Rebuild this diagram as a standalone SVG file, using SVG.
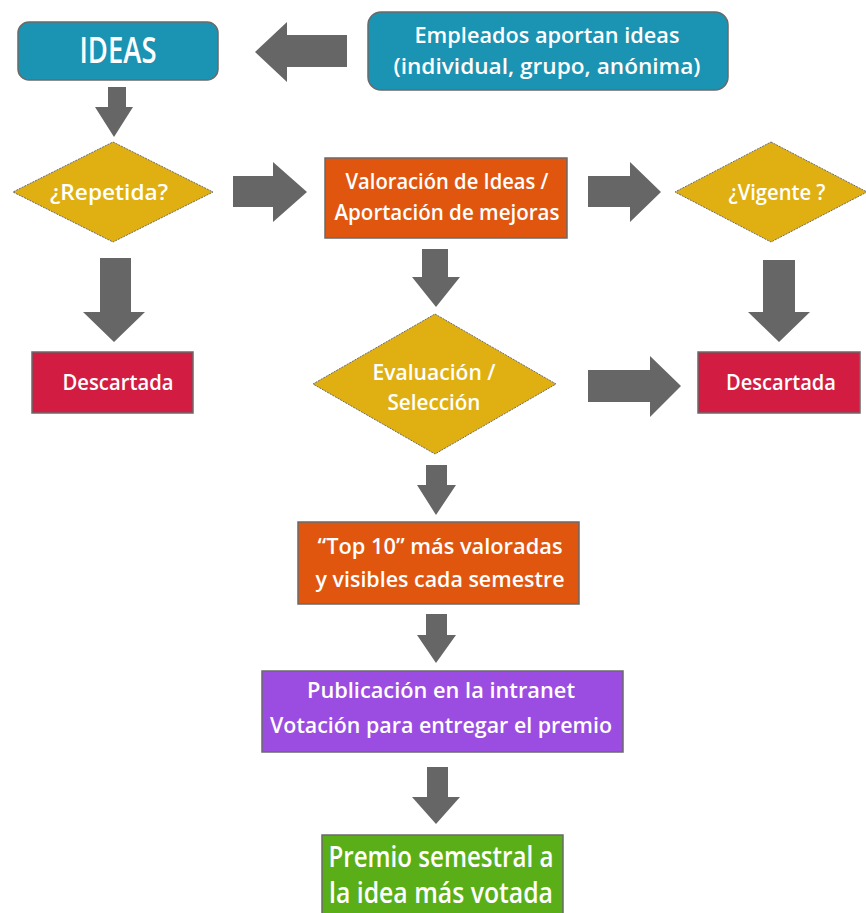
<svg xmlns="http://www.w3.org/2000/svg" width="866" height="913" viewBox="0 0 866 913">
<style>
  text { font-family: "Open Sans", "Noto Sans", "DejaVu Sans", sans-serif; font-weight: 600; fill: #ffffff; text-anchor: middle; }
  .t { font-size: 22px; }
  .big { font-size: 36px; }
  .pr { font-size: 28px; }
  .teal { fill: #1b93b3; stroke: #6a6a6a; stroke-width: 1.5; }
  .orange { fill: #e0560f; stroke: #6a6a6a; stroke-width: 1.5; }
  .red { fill: #d21c41; stroke: #6a6a6a; stroke-width: 1.5; }
  .purple { fill: #9b4de2; stroke: #6a6a6a; stroke-width: 1.5; }
  .green { fill: #5aaf19; stroke: #6a6a6a; stroke-width: 1.5; }
  .dia { fill: #e0b012; stroke: #6a6a6a; stroke-width: 1; stroke-dasharray: 2 1; }
  .arr { fill: #666666; }
</style>
<rect width="866" height="913" fill="#ffffff"/>

<g id="connectors">
  <polygon class="arr" points="347,35 287,35 287,22 255,52 287,82 287,67 347,67"/>
  <polygon class="arr" points="108,87 126,87 126,107 133,107 114,137 95,107 108,107"/>
  <polygon class="arr" points="233,176 273,176 273,162 307,192 273,222 273,207 233,207"/>
  <polygon class="arr" points="588,176 630,176 630,162 661,192 630,222 630,207 588,207"/>
  <polygon class="arr" points="100,258 131,258 131,312 145,312 114,342 83,312 100,312"/>
  <polygon class="arr" points="763,260 795,260 795,312 810,312 779,342 748,312 763,312"/>
  <polygon class="arr" points="422,249 448,249 448,277 460,277 436,307 412,277 422,277"/>
  <polygon class="arr" points="588,370 650,370 650,356 681,386 650,417 650,402 588,402"/>
  <polygon class="arr" points="426,465 447,465 447,485 456,485 436,515 417,485 426,485"/>
  <polygon class="arr" points="426,614 447,614 447,635 456,635 436,663 417,635 426,635"/>
  <polygon class="arr" points="427,767 448,767 448,797 460,797 436,824 412,797 427,797"/>
</g>

<g id="ideas">
  <rect class="teal" x="18" y="22" width="200" height="58" rx="11"/>
  <text class="big" x="118" y="63" textLength="77" lengthAdjust="spacingAndGlyphs">IDEAS</text>
</g>

<g id="empleados">
  <rect class="teal" x="368" y="12" width="360" height="78" rx="13"/>
  <text class="t" x="547" y="43" textLength="265" lengthAdjust="spacingAndGlyphs">Empleados aportan ideas</text>
  <text class="t" x="547" y="74" textLength="307" lengthAdjust="spacingAndGlyphs">(individual, grupo, anónima)</text>
</g>

<g id="repetida">
  <polygon class="dia" points="113,142 213,192 113,242 13,192"/>
  <text class="t" x="109" y="200" textLength="118" lengthAdjust="spacingAndGlyphs">¿Repetida?</text>
</g>

<g id="valoracion">
  <rect class="orange" x="325" y="158" width="242" height="80"/>
  <text class="t" x="447" y="189" textLength="203" lengthAdjust="spacingAndGlyphs">Valoración de Ideas /</text>
  <text class="t" x="447" y="220" textLength="225" lengthAdjust="spacingAndGlyphs">Aportación de mejoras</text>
</g>

<g id="vigente">
  <polygon class="dia" points="771,142 867,192 771,242 675,192"/>
  <text class="t" x="777" y="200" textLength="97" lengthAdjust="spacingAndGlyphs">¿Vigente ?</text>
</g>

<g id="descartada1">
  <rect class="red" x="32" y="352" width="161" height="61"/>
  <text class="t" x="118" y="390" textLength="111" lengthAdjust="spacingAndGlyphs">Descartada</text>
</g>

<g id="evaluacion">
  <polygon class="dia" points="435,314 556,384 435,454 313,384"/>
  <text class="t" x="434" y="380" textLength="123" lengthAdjust="spacingAndGlyphs">Evaluación /</text>
  <text class="t" x="434" y="410" textLength="93" lengthAdjust="spacingAndGlyphs">Selección</text>
</g>

<g id="descartada2">
  <rect class="red" x="698" y="352" width="162" height="61"/>
  <text class="t" x="781" y="390" textLength="110" lengthAdjust="spacingAndGlyphs">Descartada</text>
</g>

<g id="top10">
  <rect class="orange" x="298" y="522" width="281" height="82"/>
  <text class="t" x="440" y="554" textLength="245" lengthAdjust="spacingAndGlyphs">“Top 10” más valoradas</text>
  <text class="t" x="440" y="587" textLength="249" lengthAdjust="spacingAndGlyphs">y visibles cada semestre</text>
</g>

<g id="publicacion">
  <rect class="purple" x="262" y="671" width="361" height="81"/>
  <text class="t" x="441" y="698" textLength="268" lengthAdjust="spacingAndGlyphs">Publicación en la intranet</text>
  <text class="t" x="441" y="733" textLength="342" lengthAdjust="spacingAndGlyphs">Votación para entregar el premio</text>
</g>

<g id="premio">
  <rect class="green" x="322" y="835" width="241" height="85"/>
  <text class="pr" x="441" y="867" textLength="225" lengthAdjust="spacingAndGlyphs">Premio semestral a</text>
  <text class="pr" x="441" y="903" textLength="224" lengthAdjust="spacingAndGlyphs">la idea más votada</text>
</g>
</svg>
